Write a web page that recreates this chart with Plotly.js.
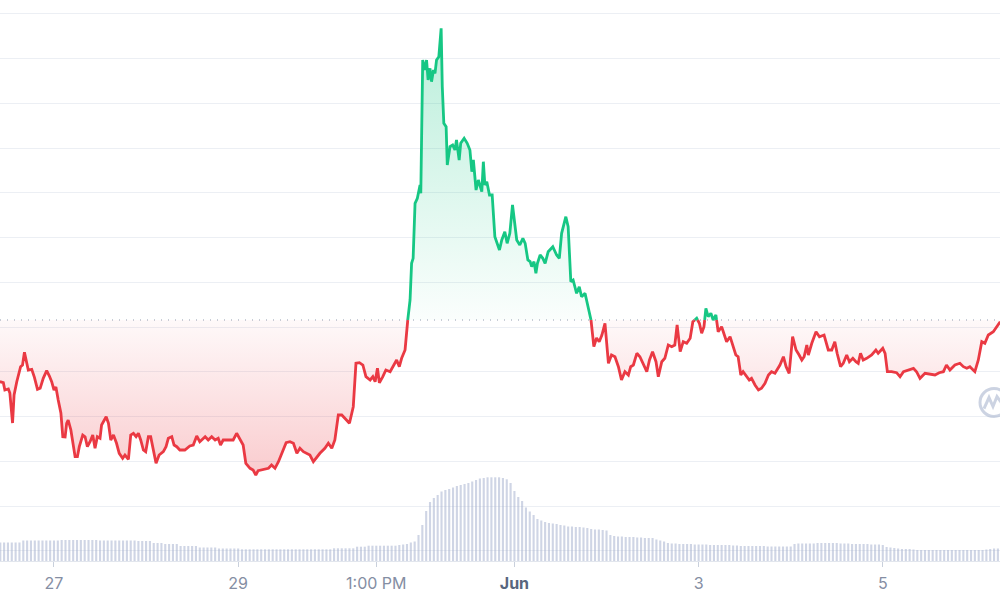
<!DOCTYPE html>
<html><head><meta charset="utf-8">
<script src="https://cdn.plot.ly/plotly-3.0.1.min.js"></script>
<style>html,body{margin:0;padding:0;background:#fff}#chart{width:1000px;height:600px}</style>
</head><body><div id="chart"></div>
<script>
// Time reference: hours counted from 26 May 00:00
const startDay = Date.UTC(2024, 4, 26);

const priceHours = [
9.9,10.8,11.2,12.1,12.5,13.2,13.6,14.3,15.3,15.8,
16.3,16.9,17.3,18.2,18.9,19.7,20.4,21.2,22.1,22.8,
23.4,24.0,24.5,25.1,25.8,26.3,26.9,27.3,27.7,28.4,
28.9,29.5,30.1,30.6,31.5,32.1,32.7,33.4,34.1,34.7,
35.3,36.0,36.4,37.6,38.2,38.8,39.5,40.3,41.0,41.9,
42.5,43.4,44.0,44.7,45.4,46.0,46.6,47.3,47.9,48.6,
49.2,49.9,50.6,51.4,52.5,53.2,53.8,54.7,55.3,56.0,
56.8,58.1,59.4,60.3,61.2,62.0,63.4,64.2,65.1,66.0,
66.8,67.4,68.1,69.9,70.7,71.6,72.5,73.3,74.0,75.1,
75.9,76.6,77.2,78.5,79.9,80.7,81.6,82.5,83.8,84.5,
85.5,86.4,87.3,88.1,89.0,89.9,90.7,91.6,92.5,93.3,
94.6,95.5,96.4,97.2,98.1,99.0,99.8,101.0,102.0,102.7,
103.6,104.5,105.3,106.4,107.1,107.7,108.3,108.8,109.7,110.5,
111.6,112.4,113.3,114.0,114.6,115.5,116.1,116.8,117.2,117.6,
118.1,118.7,119.4,119.6,120.1,120.7,121.1,121.5,122.0,122.4,
122.9,123.3,123.7,124.3,124.9,125.2,125.6,126.2,126.5,127.2,
127.9,128.5,128.9,129.6,130.0,130.9,131.7,132.4,132.9,133.3,
134.0,134.6,135.5,135.9,136.3,136.8,137.5,138.2,138.9,140.1,
140.7,141.5,142.1,142.8,143.5,144.0,144.6,145.4,146.2,146.8,
147.5,148.1,148.5,149.1,149.6,150.0,150.7,151.4,152.0,152.8,
154.0,155.0,155.7,156.3,157.4,158.0,158.7,159.3,160.2,160.9,
161.5,162.4,163.1,163.9,164.7,165.4,166.1,166.8,167.6,168.5,
169.3,170.2,171.1,171.9,172.8,173.7,174.3,175.0,175.9,176.7,
177.6,178.5,179.2,180.0,180.9,181.5,182.4,183.2,184.1,185.0,
185.8,186.4,187.2,188.0,188.9,189.8,190.5,191.5,192.2,192.8,
193.4,193.9,194.5,195.2,195.8,196.5,197.1,198.0,198.6,199.3,
200.2,201.0,201.7,202.3,203.0,203.6,204.5,205.2,205.8,206.7,
207.6,208.4,209.3,210.2,211.0,211.9,213.2,214.1,214.8,215.6,
216.5,217.4,218.2,218.9,219.5,220.2,220.6,221.5,222.6,223.5,
224.7,225.8,226.7,227.5,228.1,229.0,229.7,230.6,231.3,232.2,
233.0,233.6,234.2,234.9,235.8,237.1,238.2,238.8,240.0,240.6,
241.2,242.3,243.6,244.5,245.4,246.7,248.0,248.8,249.7,251.0,
252.3,253.6,254.7,255.8,256.6,257.5,258.8,260.1,261.0,261.9,
262.7,264.0,264.9,265.8,266.6,267.5,268.8,269.9,270.6
];

const prices = [
0.2243,0.2233,0.216,0.217,0.213,0.183,0.211,0.2243,0.2393,0.241,
0.2537,0.2443,0.236,0.2367,0.2287,0.2167,0.2177,0.2277,0.2353,0.23,
0.2243,0.216,0.219,0.206,0.193,0.1693,0.169,0.1827,0.186,0.176,
0.1627,0.1493,0.1493,0.1593,0.171,0.1693,0.1593,0.1643,0.171,0.1577,
0.1693,0.1677,0.181,0.1893,0.1827,0.166,0.171,0.1627,0.1527,0.1477,
0.151,0.1467,0.171,0.1727,0.1693,0.1727,0.166,0.156,0.1543,0.1693,
0.1693,0.156,0.1427,0.151,0.1543,0.1593,0.1677,0.1693,0.161,0.1593,
0.156,0.156,0.16,0.161,0.17,0.1643,0.1693,0.166,0.1693,0.166,
0.1677,0.161,0.166,0.166,0.166,0.1727,0.166,0.161,0.1427,0.1377,
0.136,0.131,0.1353,0.1367,0.1377,0.141,0.1377,0.1443,0.156,0.1633,
0.1643,0.1627,0.1527,0.1577,0.1543,0.1527,0.151,0.1443,0.1493,0.1527,
0.1577,0.1627,0.1577,0.166,0.191,0.191,0.1877,0.1827,0.1993,0.2427,
0.2433,0.241,0.2293,0.226,0.2293,0.2243,0.2377,0.2233,0.2293,0.236,
0.2343,0.2393,0.246,0.2393,0.2477,0.256,0.2827,0.306,0.3427,0.3477,
0.4027,0.4077,0.421,0.4127,0.546,0.536,0.546,0.526,0.5377,0.5243,
0.536,0.5327,0.546,0.5493,0.5777,0.5193,0.4827,0.4793,0.441,0.4593,
0.461,0.456,0.466,0.446,0.4627,0.4677,0.4627,0.456,0.4343,0.446,
0.416,0.426,0.4143,0.4443,0.421,0.4243,0.411,0.411,0.3693,0.356,
0.366,0.3743,0.3627,0.3727,0.401,0.3827,0.366,0.361,0.3677,0.3627,
0.346,0.3443,0.3393,0.3443,0.3327,0.3427,0.351,0.3477,0.3427,0.3543,
0.3593,0.351,0.3477,0.3727,0.3893,0.3793,0.3243,0.326,0.3127,0.3193,
0.3093,0.3127,0.301,0.288,0.2593,0.268,0.2643,0.271,0.2827,0.2427,
0.251,0.2493,0.2393,0.226,0.2343,0.231,0.2393,0.241,0.2527,0.2493,
0.241,0.2343,0.246,0.2543,0.2443,0.2293,0.2443,0.2477,0.261,0.2593,
0.261,0.281,0.2543,0.2643,0.2627,0.2677,0.2843,0.2877,0.2827,0.2727,
0.2793,0.2977,0.2893,0.2927,0.286,0.291,0.2743,0.2793,0.2727,0.2643,
0.2693,0.2593,0.251,0.2493,0.231,0.2343,0.2293,0.226,0.2277,0.221,
0.216,0.2177,0.2227,0.231,0.2343,0.2327,0.241,0.2493,0.2393,0.2327,
0.2693,0.256,0.251,0.246,0.2493,0.261,0.251,0.2627,0.2743,0.2693,
0.271,0.256,0.256,0.2643,0.2527,0.2393,0.2427,0.251,0.2443,0.2477,
0.2443,0.2427,0.2527,0.246,0.2477,0.251,0.256,0.2527,0.2577,0.2527,
0.2343,0.2343,0.2333,0.2293,0.2343,0.236,0.2377,0.2343,0.2277,0.2327,
0.232,0.231,0.2333,0.2343,0.241,0.236,0.241,0.2427,0.2393,0.2377,
0.2393,0.2343,0.246,0.2643,0.2627,0.271,0.2743,0.28,0.2843
];

// Reference (opening) price shown by the dotted line
const baselinePrice = 0.286;

// Hourly volume (millions), first bar at hour 10
const volumeStartHour = 10;
const volumes = [
1.85,1.85,1.85,1.85,1.85,1.85,
2.05,2.05,2.05,2.05,2.05,2.05,2.05,2.05,2.05,2.05,
2.1,2.1,2.1,2.1,2.1,2.1,2.1,2.1,2.1,2.1,
2.05,2.05,2.05,2.05,2.05,2.05,2.05,2.05,2.05,2.05,
2.0,2.0,2.0,2.0,
1.8,1.8,1.8,
1.7,1.7,1.7,1.7,
1.5,1.5,1.5,1.5,1.5,
1.35,1.35,1.35,1.35,1.35,
1.25,1.25,1.25,1.25,1.25,1.25,
1.17,1.17,1.17,1.17,1.17,1.17,1.17,1.17,1.17,1.17,1.17,1.17,
1.17,1.17,1.17,1.17,1.17,1.17,1.17,1.17,1.17,1.17,1.17,1.17,
1.27,1.27,1.27,1.27,1.27,1.27,
1.43,1.43,1.43,
1.53,1.53,1.53,1.53,1.53,1.53,1.53,1.53,
1.6,1.65,1.7,1.85,1.95,2.6,3.6,5.0,5.9,6.3,6.6,6.95,7.1,7.2,7.35,7.5,7.6,7.7,7.8,7.95,
8.1,8.25,8.3,8.37,8.37,8.37,8.37,8.3,8.17,7.8,7.0,6.4,6.0,5.35,4.95,4.6,4.2,
4.05,3.9,3.8,3.75,3.7,3.6,3.55,3.45,3.45,3.4,3.4,3.35,3.3,3.2,3.15,3.15,3.1,3.05,2.6,
2.5,2.45,2.45,2.4,2.4,2.4,2.35,2.35,2.3,2.3,2.3,
2.15,2.05,1.95,1.8,
1.75,1.75,1.7,1.7,1.7,1.7,1.65,1.65,1.65,1.65,1.6,1.6,1.6,1.6,1.6,1.6,
1.55,1.55,1.5,1.5,1.5,1.5,1.5,1.5,1.5,1.45,1.45,1.45,1.45,1.45,1.45,1.45,
1.7,1.75,1.75,1.75,1.75,1.75,1.8,1.8,1.8,1.8,1.8,1.8,1.75,1.75,1.75,1.7,1.7,1.7,1.7,1.7,1.65,1.65,1.65,1.6,
1.4,1.35,1.3,1.25,1.2,1.2,1.2,1.15,
1.1,1.1,1.1,1.1,1.1,1.1,1.1,1.1,1.1,1.1,1.1,1.1,1.1,1.1,1.1,1.1,1.1,1.1,
1.15,1.2,1.25,1.25
];

const tickHours = [24, 72, 108, 144, 192, 240];
const tickLabels = ['27', '29', '1:00 PM', '<b><span style="color:#58667e">Jun</span></b>', '3', '5'];
const viewHours = [9.93, 270.55];

const GREEN = '#16c784', RED = '#ea3943';
const T = h => startDay + h * 3600e3;
const B = baselinePrice;

// split the series at the baseline
const n = Math.min(priceHours.length, prices.length);
const xs = [], upY = [], dnY = [], lineUp = [], lineDn = [], baseY = [];
for (let i = 0; i < n; i++) {
  const p = prices[i], t = T(priceHours[i]);
  if (i > 0) {
    const p0 = prices[i - 1], t0 = T(priceHours[i - 1]);
    if ((p0 - B) * (p - B) < 0) {
      const f = (B - p0) / (p - p0);
      xs.push(t0 + f * (t - t0));
      upY.push(B); dnY.push(B); lineUp.push(B); lineDn.push(B); baseY.push(B);
    }
  }
  xs.push(t);
  upY.push(Math.max(p, B)); dnY.push(Math.min(p, B));
  lineUp.push(p >= B ? p : null); lineDn.push(p <= B ? p : null);
  baseY.push(B);
}
const maxP = Math.max(...prices.slice(0, n)), minP = Math.min(...prices.slice(0, n));

const volX = volumes.map((v, i) => T(volumeStartHour + i));

const traces = [
  {x: volX, y: volumes, type: 'bar', yaxis: 'y2', marker: {color: 'rgba(160,172,204,0.5)', line: {width: 0}}, hoverinfo: 'skip'},
  {x: xs, y: baseY, type: 'scatter', mode: 'lines', line: {width: 0}, hoverinfo: 'skip'},
  {x: xs, y: upY, type: 'scatter', mode: 'lines', line: {width: 0}, fill: 'tonexty',
   fillgradient: {type: 'vertical', start: B, stop: maxP,
     colorscale: [[0, 'rgba(22,199,132,0.02)'], [1, 'rgba(22,199,132,0.30)']]}, hoverinfo: 'skip'},
  {x: xs, y: baseY, type: 'scatter', mode: 'lines', line: {width: 0}, hoverinfo: 'skip'},
  {x: xs, y: dnY, type: 'scatter', mode: 'lines', line: {width: 0}, fill: 'tonexty',
   fillgradient: {type: 'vertical', start: minP, stop: B,
     colorscale: [[0, 'rgba(234,57,67,0.26)'], [1, 'rgba(234,57,67,0.03)']]}, hoverinfo: 'skip'},
  {x: xs, y: lineUp, type: 'scatter', mode: 'lines', connectgaps: false, line: {color: GREEN, width: 2.8}},
  {x: xs, y: lineDn, type: 'scatter', mode: 'lines', connectgaps: false, line: {color: RED, width: 2.8}}
];

const layout = {
  width: 1000, height: 600,
  margin: {l: 0, r: 0, t: 0, b: 39, pad: 0},
  paper_bgcolor: '#ffffff', plot_bgcolor: '#ffffff',
  showlegend: false, bargap: 0.45,
  font: {family: 'Inter, "Noto Sans", sans-serif'},
  xaxis: {
    type: 'date', range: viewHours.map(T),
    tickmode: 'array', tickvals: tickHours.map(T), ticktext: tickLabels,
    ticks: 'outside', ticklen: 5, tickwidth: 1, tickcolor: '#c9d0dc',
    showline: true, linecolor: '#e2e6ed', linewidth: 1,
    showgrid: false, zeroline: false,
    tickfont: {family: 'Inter, sans-serif', size: 16, color: '#858ea3'},
    ticklabelstandoff: 3
  },
  yaxis: {
    range: [0.045, 0.606], tick0: 0.1, dtick: 0.04475,
    showticklabels: false, ticks: '', gridcolor: '#eceff4', gridwidth: 1, zeroline: false
  },
  yaxis2: {overlaying: 'y', range: [0, 56.1], visible: false},
  shapes: [
    {type: 'line', xref: 'paper', x0: 0, x1: 1, yref: 'y', y0: B, y1: B,
     line: {color: '#939db0', width: 1.2, dash: '1px,6px'}},
    {type: 'circle', xref: 'paper', yref: 'paper', xsizemode: 'pixel', ysizemode: 'pixel',
     xanchor: 0.994, yanchor: 0.2825, x0: -14, x1: 14, y0: -14, y1: 14,
     line: {color: 'rgba(170,182,206,0.6)', width: 3}},
    {type: 'path', xref: 'paper', yref: 'paper', xsizemode: 'pixel', ysizemode: 'pixel',
     xanchor: 0.994, yanchor: 0.2825, path: 'M -10,-6 L -5,5 L -1,-4 L 3,6 L 8,-1',
     line: {color: 'rgba(170,182,206,0.6)', width: 3}}
  ]
};

Plotly.newPlot('chart', traces, layout, {staticPlot: true, displayModeBar: false});
</script>
</body></html>
